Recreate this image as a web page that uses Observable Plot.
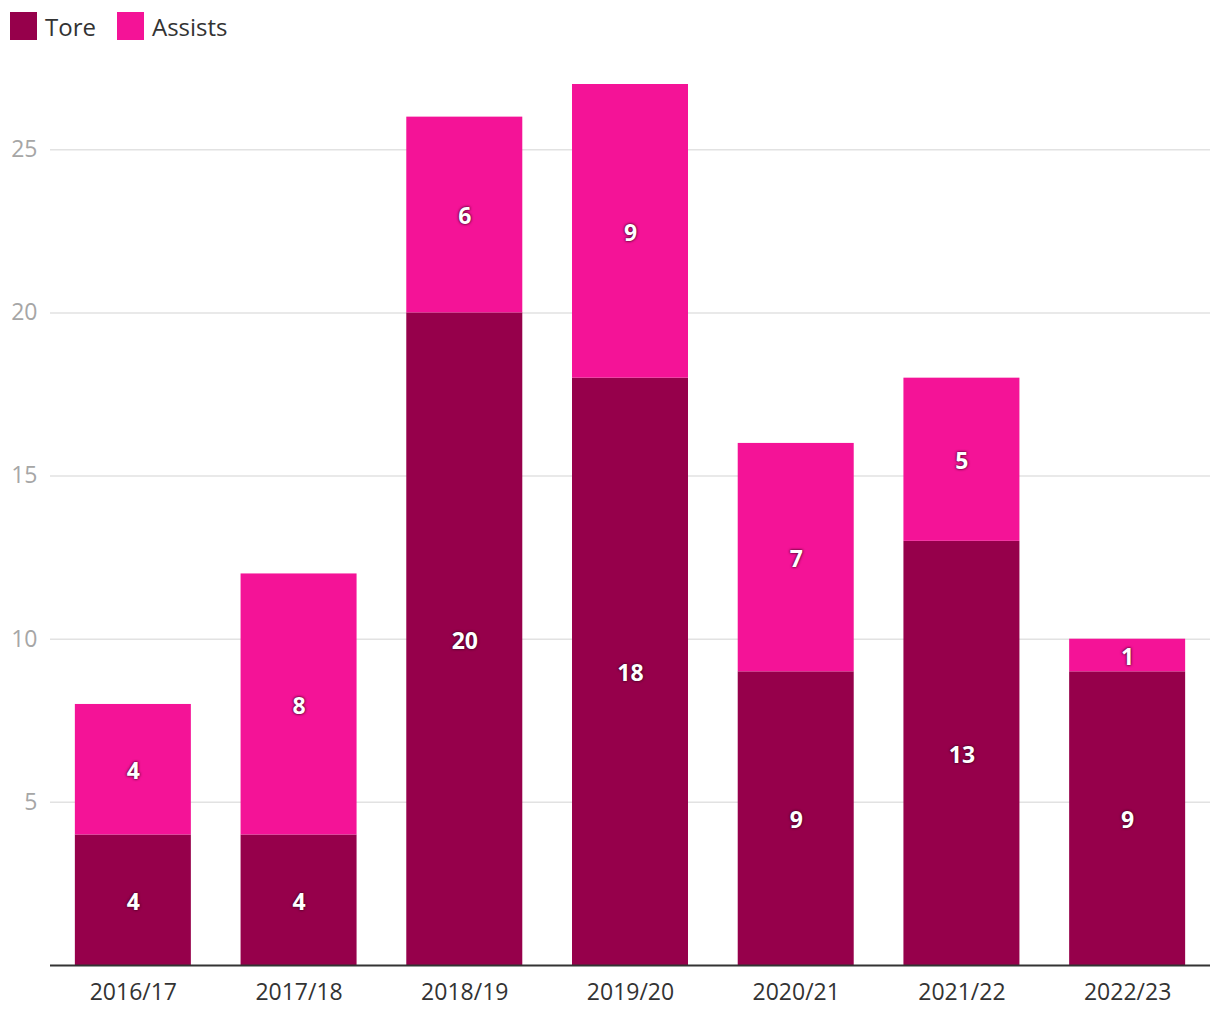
<!DOCTYPE html>
<html>
<head>
<meta charset="utf-8">
<script src="https://cdn.jsdelivr.net/npm/d3@7"></script>
<script src="https://cdn.jsdelivr.net/npm/@observablehq/plot@0.6"></script>
<style>
  body { margin: 0; background: #fff; font-family: "Open Sans", "Noto Sans", sans-serif; }
  #legend { height: 50px; display: flex; align-items: center; padding-left: 10px; box-sizing: border-box; padding-top: 2px; }
  .item { display: flex; align-items: center; margin-right: 21px; font-size: 24px; color: #333; }
  .sw { width: 27px; height: 28px; margin-right: 8px; }
  .lbl { text-shadow: 0 0 3px rgba(60,0,30,0.9), 0 0 2px rgba(60,0,30,0.7); }
</style>
</head>
<body>
<div id="legend"></div>
<div id="chart"></div>
<script>
const seasons = ["2016/17", "2017/18", "2018/19", "2019/20", "2020/21", "2021/22", "2022/23"];
const series = ["Tore", "Assists"];
const tore = [4, 4, 20, 18, 9, 13, 9];
const assists = [4, 8, 6, 9, 7, 5, 1];
const colors = ["#96004b", "#f41397"];
const yTicks = [5, 10, 15, 20, 25];

const data = [];
seasons.forEach((s, i) => {
  data.push({season: s, type: "Tore", value: tore[i]});
  data.push({season: s, type: "Assists", value: assists[i]});
});

const legend = document.getElementById("legend");
series.forEach((name, i) => {
  const it = document.createElement("div");
  it.className = "item";
  const sw = document.createElement("div");
  sw.className = "sw";
  sw.style.background = colors[i];
  const t = document.createElement("span");
  t.textContent = name;
  it.appendChild(sw); it.appendChild(t);
  legend.appendChild(it);
});

const chart = Plot.plot({
  width: 1220,
  height: 970,
  marginTop: 34,
  marginBottom: 55,
  marginLeft: 50,
  marginRight: 10,
  style: { fontFamily: "'Open Sans', 'Noto Sans', sans-serif", fontSize: "23px", background: "#fff" },
  x: { domain: seasons, paddingInner: 0.3, paddingOuter: 0.15, round: false, label: null },
  y: { domain: [0, 27], label: null },
  color: { domain: series, range: colors },
  marks: [
    Plot.gridY(yTicks, { stroke: "#e2e2e2", strokeOpacity: 1, strokeWidth: 1.5 }),
    Plot.axisY(yTicks, { tickSize: 0, tickPadding: 13, fill: "#a6a6a6", fontSize: 23, label: null }),
    Plot.barY(data, { x: "season", y: "value", fill: "type", order: series }),
    Plot.text(data, Plot.stackY({ x: "season", y: "value", z: "type", order: series, text: d => String(d.value), fill: "white", fontWeight: "bold", fontSize: 23, dy: 2, className: "lbl" })),
    Plot.ruleY([0], { stroke: "#333", strokeWidth: 2 }),
    Plot.axisX({ tickSize: 0, tickPadding: 18, fill: "#333", fontSize: 23, label: null })
  ]
});
document.getElementById("chart").appendChild(chart);
</script>
</body>
</html>
